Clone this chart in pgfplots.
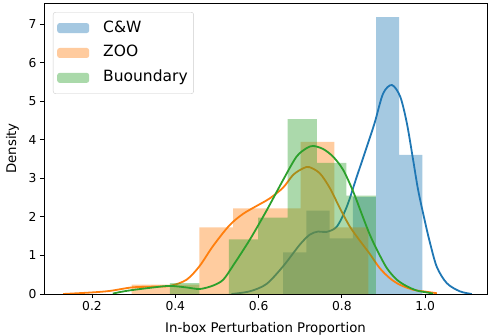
\documentclass[border=0pt]{standalone}
\usepackage{fontspec}
\setmainfont{DejaVu Sans}
\usepackage{pgfplots}
\pgfplotsset{compat=1.18}
\definecolor{cwblue}{RGB}{31,119,180}
\definecolor{zooor}{RGB}{255,127,14}
\definecolor{bgreen}{RGB}{44,160,44}
\pgfplotsset{mypatch/.style={legend image code/.code={\fill[##1] (0pt,-5pt) rectangle (32pt,5pt);}}}
\begin{document}
\begin{tikzpicture}
\begin{axis}[
 scale only axis, width=443pt, height=291pt,
 xmin=0.0848, xmax=1.1484, ymin=0, ymax=7.547,
 xtick={0.2,0.4,0.6,0.8,1.0},
 xticklabels={0.2,0.4,0.6,0.8,1.0},
 ytick={0,1,2,3,4,5,6,7},
 tick align=outside, major tick length=4pt,
 tick style={black, line width=0.9pt},
 axis line style={line width=0.9pt, black},
 tick pos=left,
 ticklabel style={font=\fontsize{12.3}{14}\selectfont},
 /pgf/number format/assume math mode=true,
 xlabel={In-box Perturbation Proportion},
 ylabel={Density},
 label style={font=\fontsize{13.3}{15}\selectfont},
 xlabel style={at={(axis description cs:0.5,0)}, anchor=base, yshift=-38.3pt},
 ylabel style={at={(axis description cs:-0.071,0.5)}, anchor=center},
 legend cell align=left,
 legend style={at={(axis description cs:0.0203,0.969)}, anchor=north west,
   font=\fontsize{15.5}{18}\selectfont,
   draw={rgb,255:red,204;green,204;blue,204}, rounded corners=2.5pt, fill=white,
   inner xsep=4pt, inner ysep=6.5pt, row sep=6.2pt,
   nodes={text height=11.3pt, text depth=3.4pt, inner sep=2pt},
   /tikz/every odd column/.append style={column sep=12pt}},
]
% C&W
\addplot[ybar interval, fill=cwblue, fill opacity=0.4, draw=none, mypatch] coordinates {
(0.6591,1.08)(0.7148,2.16)(0.7705,1.44)(0.8262,2.51)(0.8819,7.18)(0.9376,3.61)(0.9933,0)};
\addlegendentry{C\&W}
\addplot[cwblue, line width=1.8pt, smooth, forget plot] coordinates {
(0.535,0.00)(0.579,0.07)(0.619,0.26)(0.659,0.72)(0.699,1.28)(0.723,1.54)(0.743,1.62)(0.763,1.61)(0.788,1.75)(0.812,2.27)(0.836,3.05)(0.860,3.82)(0.879,4.45)(0.899,5.20)(0.920,5.42)(0.940,5.12)(0.956,4.43)(0.971,3.48)(0.983,2.70)(0.999,1.90)(1.011,1.35)(1.028,0.70)(1.052,0.28)(1.083,0.07)(1.112,0.00)};
% ZOO
\addplot[ybar interval, fill=zooor, fill opacity=0.4, draw=none, mypatch] coordinates {
(0.2953,0.246)(0.3765,0.246)(0.4576,1.725)(0.5388,2.218)(0.6199,2.218)(0.7011,3.943)(0.7822,1.725)(0.8634,0)};
\addlegendentry{ZOO}
\addplot[zooor, line width=1.8pt, smooth, forget plot] coordinates {
(0.131,0.00)(0.199,0.04)(0.243,0.08)(0.295,0.17)(0.339,0.19)(0.387,0.21)(0.427,0.37)(0.458,0.72)(0.491,1.25)(0.530,1.78)(0.563,2.08)(0.603,2.33)(0.627,2.48)(0.659,2.76)(0.683,3.09)(0.707,3.26)(0.722,3.29)(0.747,3.13)(0.771,2.75)(0.795,2.23)(0.819,1.75)(0.844,1.37)(0.867,1.04)(0.891,0.67)(0.915,0.41)(0.939,0.24)(0.971,0.11)(0.995,0.07)(1.028,0.02)};
% Buoundary
\addplot[ybar interval, fill=bgreen, fill opacity=0.4, draw=none, mypatch] coordinates {
(0.3873,0.283)(0.4579,0)(0.5285,1.416)(0.5990,1.983)(0.6696,4.533)(0.7402,3.399)(0.8108,2.550)(0.8814,0)};
\addlegendentry{Buoundary}
\addplot[bgreen, line width=1.8pt, smooth, forget plot] coordinates {
(0.250,0.01)(0.267,0.05)(0.295,0.10)(0.347,0.17)(0.387,0.21)(0.427,0.17)(0.459,0.13)(0.491,0.22)(0.515,0.37)(0.539,0.74)(0.579,1.41)(0.619,2.16)(0.659,2.96)(0.691,3.56)(0.715,3.78)(0.731,3.84)(0.755,3.76)(0.779,3.56)(0.803,3.22)(0.827,2.66)(0.851,1.98)(0.867,1.54)(0.884,1.15)(0.908,0.67)(0.932,0.37)(0.956,0.20)(0.980,0.09)(1.004,0.04)(1.019,0.01)};
\end{axis}
\pgfresetboundingbox
\path (current axis.south west) +(-44pt,-41pt) (current axis.north east) +(1pt,3pt);
\end{tikzpicture}
\end{document}
